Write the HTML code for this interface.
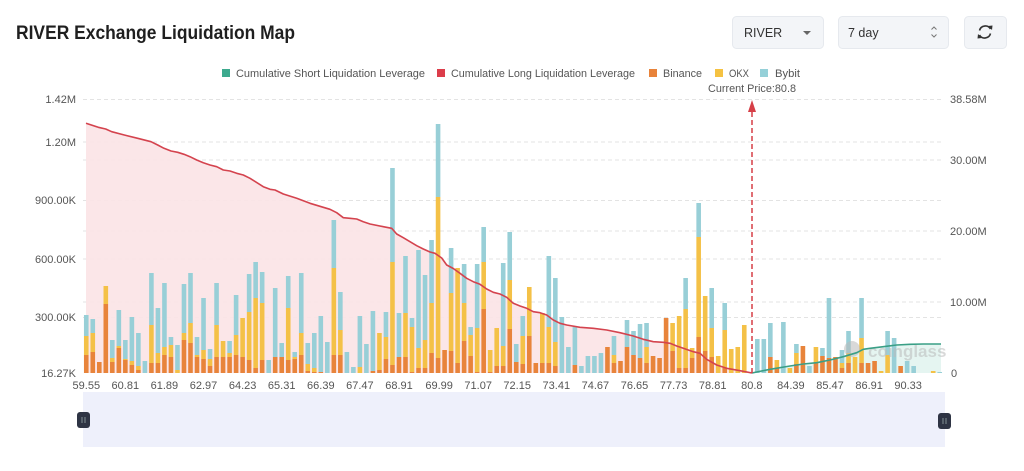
<!DOCTYPE html>
<html><head><meta charset="utf-8">
<style>
html,body{margin:0;padding:0;background:#fff;width:1024px;height:471px;overflow:hidden}
svg text{font-family:"Liberation Sans",sans-serif}
</style></head>
<body>
<svg id="c" width="1024" height="471" viewBox="0 0 1024 471" xmlns="http://www.w3.org/2000/svg">
<rect width="1024" height="471" fill="#fff"/>
<!-- Title -->
<text x="16" y="39" font-size="19" font-weight="bold" fill="#1f1f1f" textLength="279" lengthAdjust="spacingAndGlyphs">RIVER Exchange Liquidation Map</text>
<!-- Controls -->
<rect x="732.5" y="16.5" width="91" height="32" rx="4" fill="#F3F5F8" stroke="#E6E9EE"/>
<text x="744" y="37" font-size="12.5" fill="#333">RIVER</text>
<path d="M803 31 L811 31 L807 35 Z" fill="#666"/>
<rect x="838.5" y="16.5" width="110" height="32" rx="4" fill="#F3F5F8" stroke="#E6E9EE"/>
<text x="848" y="37" font-size="12.5" fill="#333">7 day</text>
<path d="M931.5 29.5 L934 27 L936.5 29.5 M931.5 34.5 L934 37 L936.5 34.5" stroke="#777" stroke-width="1" fill="none"/>
<rect x="964.5" y="16.5" width="42" height="32" rx="4" fill="#F3F5F8" stroke="#E6E9EE"/>
<g stroke="#333" stroke-width="1.6" fill="none">
<path d="M979.5 30.5 A6 6 0 0 1 990.5 29"/>
<path d="M990.5 33.5 A6 6 0 0 1 979.5 35"/>
</g>
<path d="M988 26 L992 30 L992.5 25.5 Z" fill="#333"/>
<path d="M982 38 L978 34 L977.5 38.5 Z" fill="#333"/>
<!-- Legend -->
<g font-size="11" fill="#555">
<rect x="222" y="69" width="8" height="8" fill="#3DAA8E"/>
<text x="236" y="77" textLength="189" lengthAdjust="spacingAndGlyphs">Cumulative Short Liquidation Leverage</text>
<rect x="437" y="69" width="8" height="8" fill="#DC3D4A"/>
<text x="451" y="77" textLength="184" lengthAdjust="spacingAndGlyphs">Cumulative Long Liquidation Leverage</text>
<rect x="649" y="69" width="8" height="8" fill="#E8833A"/>
<text x="663" y="77" textLength="39" lengthAdjust="spacingAndGlyphs">Binance</text>
<rect x="715" y="69" width="8" height="8" fill="#F5C242"/>
<text x="729" y="77" textLength="20" lengthAdjust="spacingAndGlyphs">OKX</text>
<rect x="760" y="69" width="8" height="8" fill="#95D0D8"/>
<text x="775" y="77" textLength="25" lengthAdjust="spacingAndGlyphs">Bybit</text>
<text x="708" y="92" textLength="88" lengthAdjust="spacingAndGlyphs">Current Price:80.8</text>
</g>
<!-- Grid -->
<g stroke="#E3E3E3" stroke-width="1" stroke-dasharray="4,3">
<line x1="83" x2="943" y1="99.5" y2="99.5"/>
<line x1="83" x2="943" y1="142" y2="142"/>
<line x1="83" x2="943" y1="160" y2="160"/>
<line x1="83" x2="943" y1="200.5" y2="200.5"/>
<line x1="83" x2="943" y1="231" y2="231"/>
<line x1="83" x2="943" y1="259" y2="259"/>
<line x1="83" x2="943" y1="302" y2="302"/>
<line x1="83" x2="943" y1="317.5" y2="317.5"/>
</g>
<!-- Axis labels -->
<g font-size="11" fill="#555" text-anchor="end">
<text x="76" y="103">1.42M</text>
<text x="76" y="146">1.20M</text>
<text x="76" y="204">900.00K</text>
<text x="76" y="263">600.00K</text>
<text x="76" y="321">300.00K</text>
<text x="76" y="377">16.27K</text>
</g>
<g font-size="11" fill="#555">
<text x="950" y="103">38.58M</text>
<text x="950" y="164">30.00M</text>
<text x="950" y="235">20.00M</text>
<text x="950" y="306">10.00M</text>
<text x="951" y="377">0</text>
</g>
<g id="xl" font-size="11" fill="#555" text-anchor="middle"></g>
<!-- fills -->
<polygon id="redfill" fill="#FBE3E6" opacity="0.9"/>
<polygon id="greenfill" fill="#E2F4F0" opacity="0.9"/>
<g id="bars"></g>
<!-- watermark -->
<g opacity="0.55">
<circle cx="852" cy="349" r="8" fill="#bbb"/>
<text x="868" y="357" font-size="17" font-weight="bold" fill="#bbb">coinglass</text>
</g>
<polyline id="redline" fill="none" stroke="#D4434E" stroke-width="1.6" stroke-linejoin="round"/>
<polyline id="greenline" fill="none" stroke="#3A9F86" stroke-width="1.6" stroke-linejoin="round"/>
<!-- current price -->
<line x1="752" y1="373" x2="752" y2="110" stroke="#D63F47" stroke-width="1.5" stroke-dasharray="5,3"/>
<path d="M752 100 L756 112 L748 112 Z" fill="#D63F47"/>
<!-- slider -->
<rect x="83" y="392" width="862" height="55" fill="#EEF0FB"/>
<rect x="77" y="412" width="13" height="16" rx="3" fill="#2E3444"/>
<line x1="82" y1="417" x2="82" y2="423" stroke="#9aa" stroke-width="0.8"/>
<line x1="85" y1="417" x2="85" y2="423" stroke="#9aa" stroke-width="0.8"/>
<rect x="938" y="413" width="13" height="16" rx="3" fill="#2E3444"/>
<line x1="943" y1="418" x2="943" y2="424" stroke="#9aa" stroke-width="0.8"/>
<line x1="946" y1="418" x2="946" y2="424" stroke="#9aa" stroke-width="0.8"/>
</svg>
<script>
(function(){
var NS="http://www.w3.org/2000/svg";
var d=[[58,37,18],[54,40,21],[11,11,11],[87,87,69],[33,15,11],[63,27,25],[33,14,13],[56,12,8],[40,7,3],[12,0,0],
[100,48,10],[65,20,10],[90,26,18],[36,28,16],[28,3,0],[89,40,33],[100,50,30],[36,18,16],[75,23,14],[24,14,7],
[90,48,16],[32,32,16],[32,20,16],[78,38,18],[55,55,16],[99,61,13],[111,75,5],[101,70,13],[13,0,0],[85,16,16],
[30,16,16],[97,65,13],[21,16,14],[100,40,18],[30,9,2],[40,5,1],[57,1,1],[31,0,0],[153,105,18],[81,43,18],
[21,0,0],[6,0,0],[57,6,0],[29,0,0],[62,2,2],[40,40,3],[61,36,14],[205,111,8],[60,16,16],[117,60,16],
[55,46,1],[123,25,5],[98,33,5],[133,70,20],[249,176,15],[23,23,23],[125,80,22],[105,105,10],[109,70,32],[46,38,17],
[109,45,1],[146,111,64],[23,23,1],[45,45,7],[110,27,7],[141,93,44],[29,11,11],[57,37,9],[86,86,37],[10,10,10],
[60,60,10],[117,46,10],[95,31,7],[56,0,0],[26,0,0],[46,8,8],[7,0,0],[17,0,0],[17,0,0],[20,0,0],
[26,26,26],[37,18,10],[12,12,12],[53,26,26],[42,18,18],[49,15,15],[50,26,10],[17,17,17],[15,15,15],[55,55,55],
[50,50,22],[57,57,5],[95,64,5],[25,25,15],[170,136,36],[77,77,22],[85,45,16],[17,17,0],[70,43,5],[24,24,0],
[26,26,0],[48,48,0],[0,0,0],[34,0,0],[34,0,0],[50,16,16],[13,13,5],[51,0,0],[5,5,0],[29,20,9],
[27,27,27],[7,0,0],[26,26,10],[25,17,17],[75,15,15],[16,16,16],[23,10,5],[42,20,10],[16,16,0],[75,35,10],
[10,10,10],[12,12,12],[2,2,0],[42,18,0],[35,0,0],[7,7,7],[12,0,0],[7,0,0],[0,0,0],[0,0,0],[2,2,0],[1,0,0]];
var g=document.getElementById("bars");
var W=6.515,B=373,bw=4.6;
function r(x,y,w,h,c){if(h<=0)return;var e=document.createElementNS(NS,"rect");e.setAttribute("x",x);e.setAttribute("y",y);e.setAttribute("width",w);e.setAttribute("height",h);e.setAttribute("fill",c);g.appendChild(e);}
for(var i=0;i<d.length;i++){
 var cx=83+W*(i+0.5),x=cx-bw/2,t=d[i];
 r(x,B-t[2],bw,t[2],"#E8843B");
 r(x,B-t[1],bw,t[1]-t[2],"#F4C147");
 r(x,B-t[0],bw,t[0]-t[1],"#98CFD7");
}
var labs=["59.55","60.81","61.89","62.97","64.23","65.31","66.39","67.47","68.91","69.99","71.07","72.15","73.41","74.67","76.65","77.73","78.81","80.8","84.39","85.47","86.91","90.33"];
var xl=document.getElementById("xl");
for(var k=0;k<labs.length;k++){
 var t=document.createElementNS(NS,"text");
 t.setAttribute("x",(83+W*(6*k+0.5)+ (k>8?1:0)).toFixed(1));t.setAttribute("y","389");t.textContent=labs[k];xl.appendChild(t);
}
var red="86,123.3 98.3,127.3 105.7,129 111.7,131.7 124.3,135 137.7,138.3 151,141.7 157.7,145 164,148.3 171,151 177.7,152.3 184,154.3 190,156.7 196.7,160 203.3,162.7 210,165 216.7,166.7 223.3,170 230,171 236.7,173.3 243.3,175 250,178.3 263.3,186.7 270,189.3 275,190 283.3,194 296.7,198.3 310,203.3 323.3,207.3 330,209.3 336.7,212.7 343.3,217.7 350,218.3 356.7,219 363.3,221.7 370,224 383.3,226.7 391.7,228.3 396.7,234 403.3,237.7 410,241.7 416.7,245.7 423.3,249 430,252 435,253.3 441.7,258 446.7,265 453.3,268.5 460,273.3 466.7,278.3 473.3,281.7 480,284.3 486.7,289 493.3,292.3 500,294 506.7,297.3 513.3,303.3 520,306 526.7,308.3 533.3,311.7 540,312.7 546.7,315 553.3,320 560,323.3 566.7,325 580,327.3 593.3,328.3 606.7,330 620,332.7 633.3,336 643.3,339.3 653.3,341.7 663.3,342.3 670,343.3 676.7,346 683.3,348.3 693.3,351.7 700,353.3 706.7,359.3 716.7,365 726.7,368.3 740,370.7 752,373";
var green="752,373 770,369.3 790,366 803.3,364 816.7,362.7 830,360 843.3,356.7 856.7,352.7 863.3,349.3 870,348.3 883.3,346.7 896.7,345 910,344.3 923.3,344 941,344";
document.getElementById("redline").setAttribute("points",red);
document.getElementById("redfill").setAttribute("points",red+" 86,373");
document.getElementById("greenline").setAttribute("points",green);
document.getElementById("greenfill").setAttribute("points",green+" 941,373");
})();
</script>
</body></html>
